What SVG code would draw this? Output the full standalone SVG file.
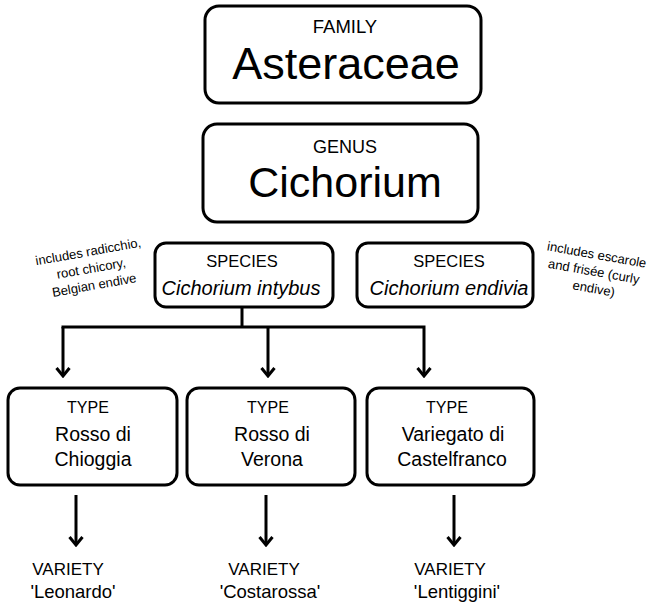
<svg xmlns="http://www.w3.org/2000/svg" width="649" height="607" viewBox="0 0 649 607">
<style>
.box{fill:#fff;stroke:#000;stroke-width:3}
.t{font-family:"Liberation Sans",Arial,sans-serif;fill:#000;text-anchor:middle}
.it{font-style:italic}
.note{font-family:"Liberation Sans",Arial,sans-serif;fill:#000;text-anchor:middle;font-size:13px}
.con{fill:none;stroke:#000;stroke-width:3}
</style>
<defs>
<marker id="chev" markerUnits="userSpaceOnUse" viewBox="-12 -9 14 18" refX="0" refY="0" markerWidth="14" markerHeight="18" orient="auto">
<path d="M-8,-6.5 L0,0 L-8,6.5" fill="none" stroke="#000" stroke-width="3"/>
</marker>
</defs>
<rect width="649" height="607" fill="#fff"/>
<g id="family">
<rect class="box" x="205" y="6" width="276" height="97" rx="14"/>
<text class="t" x="345" y="33" font-size="18.5">FAMILY</text>
<text class="t" x="346" y="79" font-size="45">Asteraceae</text>
</g>
<g id="genus">
<rect class="box" x="203" y="124" width="275" height="98" rx="14"/>
<text class="t" x="345" y="153" font-size="18">GENUS</text>
<text class="t" x="345" y="197" font-size="43">Cichorium</text>
</g>
<g id="species-intybus">
<rect class="box" x="155" y="243" width="178" height="64" rx="11"/>
<text class="t" x="242" y="267" font-size="16.5">SPECIES</text>
<text class="t it" x="241" y="295" font-size="20">Cichorium intybus</text>
</g>
<g id="species-endivia">
<rect class="box" x="357" y="243" width="176" height="64" rx="11"/>
<text class="t" x="449" y="267" font-size="16.5">SPECIES</text>
<text class="t it" x="449" y="295" font-size="20">Cichorium endivia</text>
</g>
<g id="note-intybus" transform="translate(89,256) rotate(-10)">
<text class="note" x="0" y="0">includes radicchio,</text>
<text class="note" x="0" y="17">root chicory,</text>
<text class="note" x="0" y="34">Belgian endive</text>
</g>
<g id="note-endivia" transform="translate(596,259) rotate(10)">
<text class="note" x="0" y="0">includes escarole</text>
<text class="note" x="0" y="17">and frisée (curly</text>
<text class="note" x="3" y="34">endive)</text>
</g>
<g id="type-chioggia">
<rect class="box" x="8" y="388" width="169" height="97" rx="12"/>
<text class="t" x="88" y="413" font-size="16">TYPE</text>
<text class="t" x="93" y="441" font-size="19.5">Rosso di</text>
<text class="t" x="93" y="466" font-size="19.5">Chioggia</text>
</g>
<g id="type-verona">
<rect class="box" x="187" y="388" width="168" height="97" rx="12"/>
<text class="t" x="268" y="413" font-size="16">TYPE</text>
<text class="t" x="272" y="441" font-size="19.5">Rosso di</text>
<text class="t" x="272" y="466" font-size="19.5">Verona</text>
</g>
<g id="type-castelfranco">
<rect class="box" x="367" y="388" width="167" height="97" rx="12"/>
<text class="t" x="447" y="413" font-size="16">TYPE</text>
<text class="t" x="453" y="441" font-size="19.5">Variegato di</text>
<text class="t" x="452" y="466" font-size="19.5">Castelfranco</text>
</g>
<g id="variety-leonardo">
<text class="t" x="68" y="575" font-size="17">VARIETY</text>
<text class="t" x="73" y="598" font-size="18.5">'Leonardo'</text>
</g>
<g id="variety-costarossa">
<text class="t" x="264" y="575" font-size="17">VARIETY</text>
<text class="t" x="270" y="598" font-size="18.5">'Costarossa'</text>
</g>
<g id="variety-lentiggini">
<text class="t" x="450" y="575" font-size="17">VARIETY</text>
<text class="t" x="457" y="598" font-size="18.5">'Lentiggini'</text>
</g>
<g id="connectors">
<path class="con" d="M242,307 V327"/>
<path class="con" d="M61.5,327 H424 V376" marker-end="url(#chev)"/>
<path class="con" d="M63,327 V376" marker-end="url(#chev)"/>
<path class="con" d="M268,327 V376" marker-end="url(#chev)"/>
<path class="con" d="M76,495 V545" marker-end="url(#chev)"/>
<path class="con" d="M266,495 V545" marker-end="url(#chev)"/>
<path class="con" d="M454,495 V545" marker-end="url(#chev)"/>
</g>
</svg>
